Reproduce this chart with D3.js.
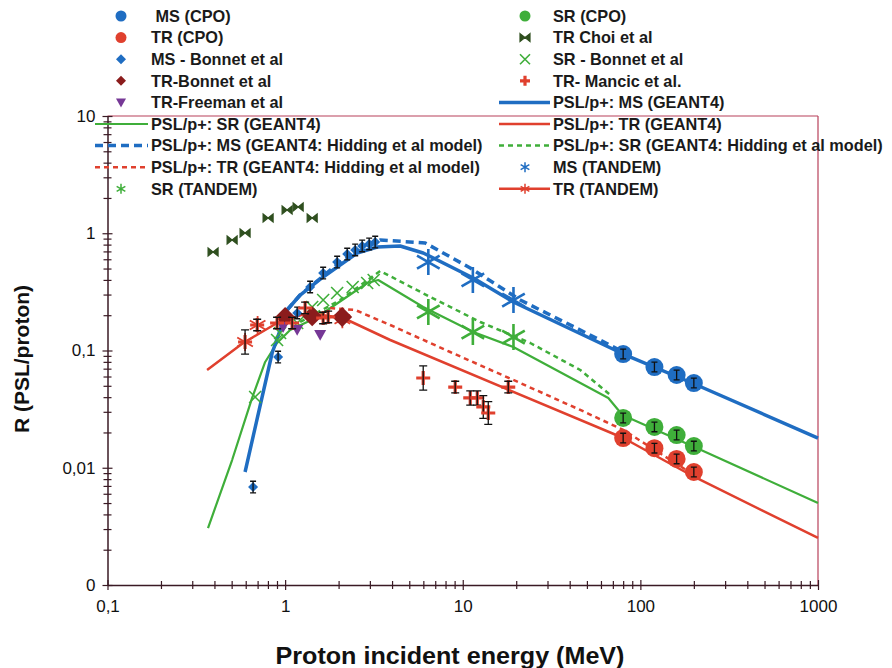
<!DOCTYPE html>
<html>
<head>
<meta charset="utf-8">
<script src="https://cdn.jsdelivr.net/npm/d3@7"></script>
<style>
  body { margin: 0; background: #fff; }
  svg { font-family: 'Liberation Sans', Arial, sans-serif; }
</style>
</head>
<body>
<div id="graf"></div>
<script>
// ---- axis ticks
const xMajor = [0.1, 1, 10, 100, 1000]
const xTickLabels = ['0,1', '1', '10', '100', '1000']
const yMajor = [0.001, 0.01, 0.1, 1, 10]
const yTickLabels = ['0', '0,01', '0,1', '1', '10']

// ---- GEANT4 curves (energy MeV, R)
const msGeantE = [0.595, 0.635, 0.845, 1.026, 1.215, 1.637, 2.544, 3.3, 4.44, 5.99, 11.46, 19.26, 80.2, 201.5, 1000]
const msGeantR = [0.0092, 0.0142, 0.0952, 0.2215, 0.2973, 0.4236, 0.679, 0.763, 0.779, 0.679, 0.415, 0.259, 0.0933, 0.0518, 0.0179]
const msHidE = [1.026, 1.215, 2.04, 3.43, 6.15, 11.02, 21.08, 45.9, 82.3]
const msHidR = [0.2215, 0.2973, 0.569, 0.876, 0.826, 0.505, 0.2695, 0.1495, 0.0952]
const srGeantE = [0.368, 0.503, 0.652, 0.772, 0.901, 1.067, 1.33, 1.637, 2.178, 2.897, 3.342, 5.99, 11.46, 19.26, 66.0, 79.2, 201.5, 1000]
const srGeantR = [0.00306, 0.01164, 0.0394, 0.0798, 0.1159, 0.1495, 0.175, 0.2089, 0.2804, 0.3764, 0.3993, 0.235, 0.1438, 0.1071, 0.0394, 0.0282, 0.01503, 0.00501]
const srHidE = [1.215, 2.04, 3.43, 6.56, 12.55, 24.0, 45.9, 67.8]
const srHidR = [0.175, 0.2695, 0.4764, 0.286, 0.175, 0.1159, 0.0682, 0.0417]
const trGeantE = [0.3636, 0.58, 0.901, 1.33, 2.123, 3.905, 80.2, 201.5, 1000]
const trGeantR = [0.0682, 0.1159, 0.1716, 0.2089, 0.1893, 0.1229, 0.01793, 0.00834, 0.00252]
const trHidE = [1.793, 2.48, 3.905, 8.5, 21.08, 45.9, 80.2, 217.8]
const trHidR = [0.2305, 0.2215, 0.165, 0.0971, 0.0528, 0.0311, 0.021, 0.00802]

// ---- measurements
const cpoE = [80, 120, 160, 200]
const msCpoR = [0.0933, 0.0723, 0.0618, 0.0528]
const srCpoR = [0.0266, 0.0223, 0.019, 0.0153]
const trCpoR = [0.0179, 0.0147, 0.0119, 0.0092]
const cpoErr = [0.1, 0.1, 0.1, 0.1]

const tandemE = [6.4, 11.4, 19.3]
const msTandemR = [0.5685, 0.3993, 0.2695]
const srTandemR = [0.213, 0.1438, 0.1303]
const trTandemE = [0.595, 0.7, 2.1]
const trTandemR = [0.118, 0.165, 0.185]

const msBonnetE = [0.66, 0.913, 1.169, 1.383, 1.637, 1.963, 2.236, 2.48, 2.715, 2.973, 3.214]
const msBonnetR = [0.00685, 0.088, 0.2089, 0.348, 0.458, 0.5685, 0.665, 0.72, 0.779, 0.81, 0.842]
const msBonnetErr = [0.12, 0.12, 0.12, 0.12, 0.12, 0.12, 0.12, 0.12, 0.12, 0.12, 0.12]
const trBonnetE = [1.0, 1.42, 2.095]
const trBonnetR = [0.193, 0.196, 0.193]
const freemanE = [0.974, 1.169, 1.575]
const freemanR = [0.159, 0.15, 0.136]
const srBonnetE = [0.678, 0.901, 0.937, 1.169, 1.42, 1.637, 1.963, 2.4, 2.897, 3.152]
const srBonnetR = [0.0401, 0.1229, 0.141, 0.1716, 0.235, 0.2695, 0.3093, 0.348, 0.3764, 0.3993]
const choiE = [0.393, 0.503, 0.595, 0.802, 1.026, 1.184, 1.42]
const choiR = [0.692, 0.876, 1.005, 1.349, 1.579, 1.675, 1.349]
const mancicE = [0.595, 0.696, 0.901, 1.095, 1.296, 1.637, 1.747, 5.99, 9.07, 11.02, 12.07, 13.05, 13.92, 18.04]
const mancicR = [0.1182, 0.165, 0.1716, 0.1716, 0.2305, 0.1893, 0.1931, 0.0583, 0.0488, 0.0394, 0.0394, 0.033, 0.0293, 0.0488]
const mancicErr = [0.27, 0.12, 0.12, 0.12, 0.12, 0.12, 0.12, 0.27, 0.12, 0.15, 0.15, 0.25, 0.25, 0.12]

// ---- legend
const legendLeft = [' MS (CPO)', 'TR (CPO)', 'MS - Bonnet et al', 'TR-Bonnet et al', 'TR-Freeman et al',
  'PSL/p+: SR (GEANT4)', 'PSL/p+: MS (GEANT4: Hidding et al model)', 'PSL/p+: TR (GEANT4: Hidding et al model)', 'SR (TANDEM)']
const legendLeftKeys = ['msCpo', 'trCpo', 'msBonnet', 'trBonnet', 'freeman', 'srGeant', 'msHid', 'trHid', 'srTandem']
const legendRight = ['SR (CPO)', 'TR Choi et al', 'SR - Bonnet et al', 'TR- Mancic et al.', 'PSL/p+: MS (GEANT4)',
  'PSL/p+: TR (GEANT4)', 'PSL/p+: SR (GEANT4: Hidding et al model)', 'MS (TANDEM)', 'TR (TANDEM)']
const legendRightKeys = ['srCpo', 'choi', 'srBonnet', 'mancic', 'msGeant', 'trGeant', 'srHid', 'msTandem', 'trTandem']

const azul = '#1f6dc2'
const verde = '#3fae3a'
const rojo = '#e0402e'

const estilos = {
  msCpo: { marker: 'circle', color: azul },
  trCpo: { marker: 'circle', color: rojo },
  srCpo: { marker: 'circle', color: verde },
  msBonnet: { marker: 'diamond', color: azul },
  trBonnet: { marker: 'diamond', color: '#8b1c1c' },
  freeman: { marker: 'triangle', color: '#763896' },
  choi: { marker: 'bowtie', color: '#2f4f1f' },
  srBonnet: { marker: 'cross', color: verde },
  mancic: { marker: 'plus', color: rojo },
  msTandem: { marker: 'asterisk', color: azul },
  srTandem: { marker: 'asterisk', color: verde },
  trTandem: { marker: 'asterisk', color: rojo, line: true, width: 2.5 },
  msGeant: { color: azul, line: true, width: 3.5 },
  msHid: { color: azul, line: true, width: 3.5, dash: '8,5' },
  srGeant: { color: verde, line: true, width: 2.2 },
  srHid: { color: verde, line: true, width: 2.5, dash: '5,4' },
  trGeant: { color: rojo, line: true, width: 2.5 },
  trHid: { color: rojo, line: true, width: 2.5, dash: '5,4' },
}

// ---- layout
const anchoTotal = 892
const altoTotal = 668
const margin = { top: 116, right: 74, bottom: 83, left: 107.5 }
const ancho = anchoTotal - margin.left - margin.right
const alto = altoTotal - margin.top - margin.bottom

const svg = d3.select('#graf').append('svg')
  .attr('width', anchoTotal)
  .attr('height', altoTotal)

const g = svg.append('g').attr('transform', `translate(${margin.left}, ${margin.top})`)

const x = d3.scaleLog().domain([0.1, 1000]).range([0, ancho])
const y = d3.scaleLog().domain([0.001, 10]).range([alto, 0])

const esMayor = (d) => Math.abs(Math.log10(d) - Math.round(Math.log10(d))) < 1e-6
const ticksLog = (lo, hi) => {
  const t = []
  for (let p = Math.log10(lo); p < Math.log10(hi); p++) {
    for (let m = 1; m < 10; m++) t.push(m * Math.pow(10, p))
  }
  t.push(hi)
  return t
}
const etiqueta = (mayores, labels) => (d) => {
  const i = mayores.findIndex((v) => Math.abs(Math.log10(v) - Math.log10(d)) < 1e-6)
  return i >= 0 ? labels[i] : ''
}

// frame (top & right)
g.append('line').attr('x1', 0).attr('x2', ancho).attr('y1', 0).attr('y2', 0)
  .attr('stroke', '#b8405a').attr('stroke-width', 1.2)
g.append('line').attr('x1', ancho).attr('x2', ancho).attr('y1', 0).attr('y2', alto)
  .attr('stroke', '#b8405a').attr('stroke-width', 1.2)

const xAxis = g.append('g').attr('transform', `translate(0, ${alto})`)
  .call(d3.axisBottom(x).tickValues(ticksLog(0.1, 1000)).tickFormat(etiqueta(xMajor, xTickLabels)).tickSizeOuter(0))
xAxis.selectAll('.tick line').attr('y1', (d) => esMayor(d) ? -5 : -4).attr('y2', (d) => esMayor(d) ? 5 : 4)
xAxis.selectAll('.tick text').attr('y', 15).attr('font-size', 17).attr('fill', '#111')

const yAxis = g.append('g')
  .call(d3.axisLeft(y).tickValues(ticksLog(0.001, 10)).tickFormat(etiqueta(yMajor, yTickLabels)).tickSizeOuter(0))
yAxis.selectAll('.tick line').attr('x1', (d) => esMayor(d) ? 5 : 4).attr('x2', (d) => esMayor(d) ? -5 : -4)
yAxis.selectAll('.tick text').attr('x', -12).attr('font-size', 17).attr('fill', '#111')

for (const ax of [xAxis, yAxis]) {
  ax.select('.domain').attr('stroke', '#3a1a24').attr('stroke-width', 1.5)
  ax.selectAll('.tick line').attr('stroke', '#3a1a24').attr('stroke-width', 1.2)
}

// axis titles
svg.append('text')
  .attr('transform', 'translate(29, 359) rotate(-90)')
  .attr('text-anchor', 'middle').attr('font-size', 21).attr('font-weight', 'bold')
  .attr('fill', '#111').text('R (PSL/proton)')
svg.append('text')
  .attr('x', 450).attr('y', 664)
  .attr('text-anchor', 'middle').attr('font-size', 23).attr('font-weight', 'bold')
  .attr('textLength', 349).attr('lengthAdjust', 'spacingAndGlyphs')
  .attr('fill', '#111').text('Proton incident energy (MeV)')

// ---- curves
const generadorLinea = d3.line().x((d) => x(d[0])).y((d) => y(d[1]))
const curvas = [
  ['srGeant', srGeantE, srGeantR], ['srHid', srHidE, srHidR],
  ['trGeant', trGeantE, trGeantR], ['trHid', trHidE, trHidR],
  ['msGeant', msGeantE, msGeantR], ['msHid', msHidE, msHidR],
]
curvas.forEach(([k, E, R]) => {
  const s = estilos[k]
  g.append('path')
    .attr('d', generadorLinea(d3.zip(E, R)))
    .attr('fill', 'none').attr('stroke', s.color).attr('stroke-width', s.width)
    .attr('stroke-dasharray', s.dash || null).attr('stroke-linejoin', 'round')
})

// ---- markers
function dibujarMarcador(sel, tipo, color, t) {
  if (tipo === 'circle') {
    sel.append('circle').attr('r', t).attr('fill', color)
  } else if (tipo === 'diamond') {
    sel.append('path').attr('d', `M0,${-t}L${t},0L0,${t}L${-t},0Z`).attr('fill', color)
  } else if (tipo === 'triangle') {
    sel.append('path').attr('d', `M${-t},${-t * 0.8}L${t},${-t * 0.8}L0,${t}Z`).attr('fill', color)
  } else if (tipo === 'bowtie') {
    sel.append('path').attr('d', `M${-t},${-t * 0.8}L0,0L${-t},${t * 0.8}ZM${t},${-t * 0.8}L0,0L${t},${t * 0.8}Z`)
      .attr('fill', color).attr('stroke', color).attr('stroke-width', 1.2)
  } else if (tipo === 'cross') {
    sel.append('path').attr('d', `M${-t},${-t}L${t},${t}M${-t},${t}L${t},${-t}`)
      .attr('stroke', color).attr('stroke-width', 1.6).attr('fill', 'none')
  } else if (tipo === 'plus') {
    sel.append('path').attr('d', `M${-t},0L${t},0M0,${-t}L0,${t}`)
      .attr('stroke', color).attr('stroke-width', 3.2).attr('fill', 'none')
  } else if (tipo === 'asterisk') {
    const c = t * 0.87
    const h = t * 0.5
    sel.append('path').attr('d', `M0,${-t}L0,${t}M${-c},${-h}L${c},${h}M${-c},${h}L${c},${-h}`)
      .attr('stroke', color).attr('stroke-width', Math.max(1.5, t / 5)).attr('fill', 'none')
  }
}

function errorBar(sel, E, R, err, cap) {
  const yt = y(R * (1 + err))
  const yb = y(R / (1 + err))
  const xx = x(E)
  sel.append('path')
    .attr('d', `M${xx},${yt}L${xx},${yb}M${xx - cap},${yt}L${xx + cap},${yt}M${xx - cap},${yb}L${xx + cap},${yb}`)
    .attr('stroke', '#111').attr('stroke-width', 1.3).attr('fill', 'none')
}

function serie(k, E, R, t, err, cap) {
  const s = estilos[k]
  const pts = d3.zip(E, R, err || E.map(() => null))
  pts.forEach(([e, r, er]) => {
    const m = g.append('g').attr('transform', `translate(${x(e)}, ${y(r)})`)
    dibujarMarcador(m, s.marker, s.color, t)
    if (er != null) errorBar(g, e, r, er, cap)
  })
}

serie('choi', choiE, choiR, 5)
serie('srBonnet', srBonnetE, srBonnetR, 6)
serie('trTandem', trTandemE, trTandemR, 9)
serie('trBonnet', trBonnetE, trBonnetR, 10)
serie('freeman', freemanE, freemanR, 6)
serie('msBonnet', msBonnetE, msBonnetR, 5, msBonnetErr, 3)
serie('mancic', mancicE, mancicR, 7, mancicErr, 4)
serie('msTandem', tandemE, msTandemR, 13)
serie('srTandem', tandemE, srTandemR, 13)
serie('msCpo', cpoE, msCpoR, 9, cpoErr, 3)
serie('srCpo', cpoE, srCpoR, 9, cpoErr, 3)
serie('trCpo', cpoE, trCpoR, 9, cpoErr, 3)

// ---- legend
const leyenda = svg.append('g')
function columna(labels, keys, xm, xt) {
  labels.forEach((lab, i) => {
    const yy = 16 + i * 21.6
    const s = estilos[keys[i]]
    if (s.line) {
      leyenda.append('line').attr('x1', xm - 26).attr('x2', xt - 3).attr('y1', yy).attr('y2', yy)
        .attr('stroke', s.color).attr('stroke-width', s.width)
        .attr('stroke-dasharray', s.dash || null)
    }
    if (s.marker) {
      const m = leyenda.append('g').attr('transform', `translate(${xm}, ${yy})`)
      dibujarMarcador(m, s.marker, s.color, s.marker === 'circle' ? 5.5 : 5)
    }
    leyenda.append('text').attr('x', xt).attr('y', yy).attr('dy', '0.36em')
      .attr('font-size', 16.3).attr('font-weight', 'bold').attr('fill', '#1a1a1a')
      .attr('xml:space', 'preserve').style('white-space', 'pre')
      .text(lab)
  })
}
columna(legendLeft, legendLeftKeys, 121, 151)
columna(legendRight, legendRightKeys, 525, 553)
</script>
</body>
</html>
